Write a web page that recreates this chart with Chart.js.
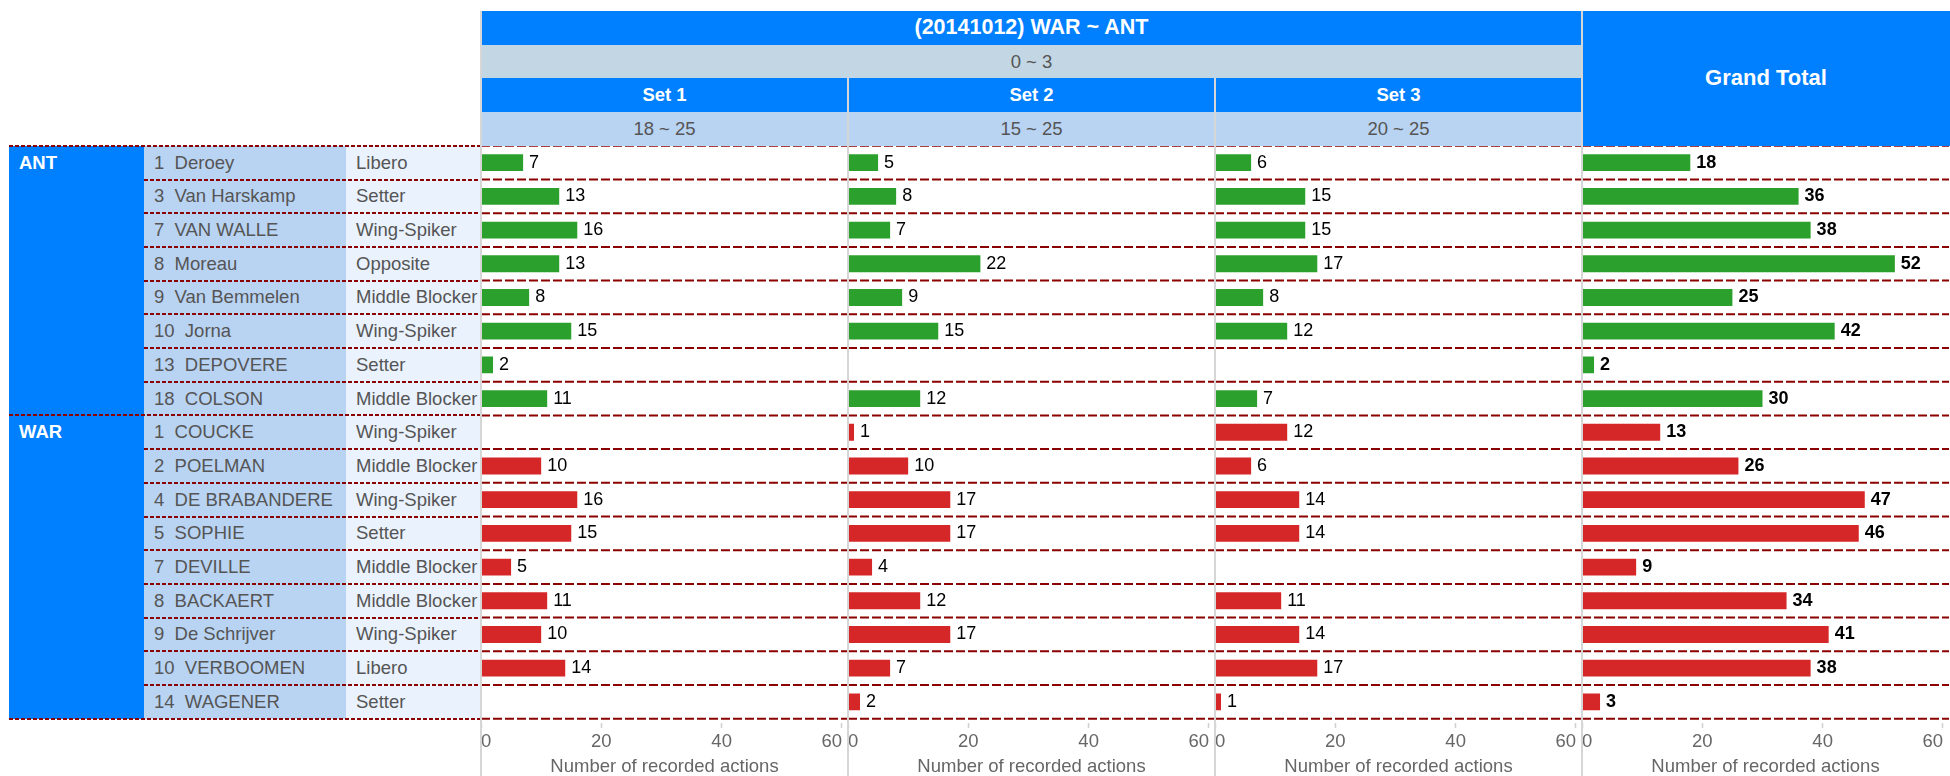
<!DOCTYPE html>
<html>
<head>
<meta charset="utf-8">
<script src="https://cdn.jsdelivr.net/npm/chart.js@4.4.1/dist/chart.umd.min.js"></script>
<style>
  html, body { margin:0; padding:0; background:#fff; }
  #page { position:relative; width:1950px; height:776px; overflow:hidden; font-family:'Liberation Sans', Arial, sans-serif; }
  .cell { position:absolute; display:flex; align-items:center; box-sizing:border-box; white-space:pre; z-index:2; }
  .hd   { justify-content:center; }
  .dash { position:absolute; height:2px; z-index:3; background:repeating-linear-gradient(90deg, #8b0000 0 4px, transparent 4px 6px); }
  .vline{ position:absolute; width:2px; background:#d6d6d6; z-index:4; }
  canvas{ position:absolute; top:0; z-index:1; }
</style>
</head>
<body>
<div id="page"></div>
<script>
/* ── Data ── */
const matchTitle = '(20141012) WAR ~ ANT';
const matchScore = '0 ~ 3';
const setTitles  = ['Set 1', 'Set 2', 'Set 3'];
const setScores  = ['18 ~ 25', '15 ~ 25', '20 ~ 25'];
const teamNames  = ['ANT', 'WAR'];
const teamSizes  = [8, 9];
const players = ['1  Deroey','3  Van Harskamp','7  VAN WALLE','8  Moreau','9  Van Bemmelen','10  Jorna','13  DEPOVERE','18  COLSON',
                 '1  COUCKE','2  POELMAN','4  DE BRABANDERE','5  SOPHIE','7  DEVILLE','8  BACKAERT','9  De Schrijver','10  VERBOOMEN','14  WAGENER'];
const positions = ['Libero','Setter','Wing-Spiker','Opposite','Middle Blocker','Wing-Spiker','Setter','Middle Blocker',
                   'Wing-Spiker','Middle Blocker','Wing-Spiker','Setter','Middle Blocker','Middle Blocker','Wing-Spiker','Libero','Setter'];
const set1       = [7, 13, 16, 13, 8, 15, 2, 11,    null, 10, 16, 15, 5, 11, 10, 14, null];
const set2       = [5, 8, 7, 22, 9, 15, null, 12,   1, 10, 17, 17, 4, 12, 17, 7, 2];
const set3       = [6, 15, 15, 17, 8, 12, null, 7,  12, 6, 14, 14, null, 11, 14, 17, 1];
const grandTotal = [18, 36, 38, 52, 25, 42, 2, 30, 13, 26, 47, 46, 9, 34, 41, 38, 3];
const xTicks = [0, 20, 40, 60];
const X_MAX  = 61;
const axisTitle = 'Number of recorded actions';

/* ── Look ── */
const FONT   = "'Liberation Sans', Arial, sans-serif";
const BLUE   = '#0080ff';
const teamColor = { ANT:'#2ca02c', WAR:'#d62728' };
const PAGE_H = 776;
const TOP = 11, ROW_H = 33.7;
const DATA_TOP = TOP + 4 * ROW_H;
const DATA_BOTTOM = DATA_TOP + players.length * ROW_H;
const COL_TEAM = 9, COL_NAME = 144, COL_POS = 346, PANEL_X = 481, PANEL_W = 367;

const rowTeam = [];
teamNames.forEach((t, i) => { for (let k = 0; k < teamSizes[i]; k++) rowTeam.push(t); });

function box(x, y, w, h, bg, inner, cls = '', extra = '') {
  return `<div class="cell ${cls}" style="left:${x}px;top:${y}px;width:${w}px;height:${h}px;background:${bg};${extra}">${inner}</div>`;
}

function renderTable() {
  const page = document.getElementById('page');
  let html = '';
  const bold = (txt, size) => `<span style="font-weight:700;font-size:${size}px;color:#fff">${txt}</span>`;
  const grey = txt => `<span style="font-size:18.5px;color:#555">${txt}</span>`;

  // header
  html += box(PANEL_X, TOP, PANEL_W * 3, ROW_H, BLUE, bold(matchTitle, 21.5), 'hd');
  html += box(PANEL_X, TOP + ROW_H, PANEL_W * 3, ROW_H, '#c2d6e4', grey(matchScore), 'hd');
  setTitles.forEach((s, i) => {
    const x = PANEL_X + i * PANEL_W;
    html += box(x, TOP + 2 * ROW_H, PANEL_W, ROW_H, BLUE, bold(s, 18.5), 'hd');
    html += box(x, TOP + 3 * ROW_H, PANEL_W, ROW_H, '#b9d3f2', grey(setScores[i]), 'hd');
  });
  html += box(PANEL_X + 3 * PANEL_W, TOP, 1950 - PANEL_X - 3 * PANEL_W, 4 * ROW_H, BLUE, bold('Grand Total', 22), 'hd');

  // label columns
  const dataH = DATA_BOTTOM - DATA_TOP;
  html += box(COL_TEAM, DATA_TOP, COL_NAME - COL_TEAM, dataH, BLUE, '');
  html += box(COL_NAME, DATA_TOP, COL_POS - COL_NAME, dataH, '#b9d3f2', '');
  html += box(COL_POS, DATA_TOP, PANEL_X - COL_POS, dataH, '#eaf2fd', '');
  let start = 0;
  teamNames.forEach((t, i) => {
    html += box(COL_TEAM, DATA_TOP + start * ROW_H, COL_NAME - COL_TEAM, ROW_H, 'transparent', bold(t, 18.5), '', 'padding-left:10px');
    start += teamSizes[i];
  });
  players.forEach((p, i) => {
    const y = DATA_TOP + i * ROW_H;
    html += box(COL_NAME, y, COL_POS - COL_NAME, ROW_H, 'transparent', grey(p), '', 'padding-left:10px');
    html += box(COL_POS, y, PANEL_X - COL_POS, ROW_H, 'transparent', grey(positions[i]), '', 'padding-left:10px');
  });

  // dashed separators over the label columns
  const teamEdges = [0];
  teamSizes.reduce((a, n) => { teamEdges.push(a + n); return a + n; }, 0);
  for (let i = 0; i <= players.length; i++) {
    const left = teamEdges.includes(i) ? COL_TEAM : COL_NAME;
    html += `<div class="dash" style="left:${left}px;top:${DATA_TOP + i * ROW_H - 1}px;width:${PANEL_X - left}px"></div>`;
  }

  // panel borders
  [TOP, TOP + 2 * ROW_H, TOP + 2 * ROW_H, TOP].forEach((y0, i) => {
    const x = PANEL_X + i * PANEL_W;
    html += `<div class="vline" style="left:${x - 1}px;top:${y0}px;height:${PAGE_H - y0}px"></div>`;
  });
  page.insertAdjacentHTML('beforeend', html);
}

/* ── Plugins ── */
const rowLines = {
  id:'rowLines',
  beforeDatasetsDraw(chart) {
    const { ctx, scales:{ y } } = chart;
    ctx.save();
    ctx.strokeStyle = '#8b0000';
    ctx.lineWidth = 2;
    ctx.setLineDash([9, 3]);
    for (let i = 0; i <= players.length; i++) {
      const yy = y.getPixelForValue(i - 0.5);
      ctx.beginPath(); ctx.moveTo(0, yy); ctx.lineTo(chart.width, yy); ctx.stroke();
    }
    ctx.restore();
  }
};

const valueLabels = {
  id:'valueLabels',
  afterDatasetsDraw(chart, args, opts) {
    const { ctx } = chart;
    const data = chart.data.datasets[0].data;
    ctx.save();
    ctx.font = `${opts.weight} 18px ${FONT}`;
    ctx.fillStyle = '#000';
    ctx.textAlign = 'left';
    ctx.textBaseline = 'middle';
    chart.getDatasetMeta(0).data.forEach((bar, i) => {
      if (data[i] == null) return;
      ctx.fillText(String(data[i]), bar.x + 6, bar.y);
    });
    ctx.restore();
  }
};

function buildPanel(idx, values, isTotal) {
  const cv = document.createElement('canvas');
  cv.width = PANEL_W;
  cv.height = PAGE_H;
  cv.style.left = (PANEL_X + idx * PANEL_W) + 'px';
  document.getElementById('page').appendChild(cv);
  new Chart(cv, {
    type:'bar',
    data:{
      labels:players,
      datasets:[{ data:values, backgroundColor:rowTeam.map(t => teamColor[t]), barPercentage:0.5, categoryPercentage:1 }]
    },
    options:{
      responsive:false, animation:false, indexAxis:'y', events:[],
      layout:{ padding:{ top:DATA_TOP, left:0, right:0, bottom:0 } },
      plugins:{ legend:{ display:false }, tooltip:{ enabled:false }, valueLabels:{ weight:isTotal ? 'bold' : 'normal' } },
      scales:{
        y:{ type:'category', display:false, grid:{ display:false } },
        x:{
          min:0, max:X_MAX,
          afterBuildTicks:s => { s.ticks = xTicks.map(v => ({ value:v })); },
          afterFit:s => { s.height = PAGE_H - DATA_BOTTOM; },
          border:{ display:false },
          grid:{ drawOnChartArea:false, drawTicks:true, tickLength:12, tickColor:'#d0d0d0', tickWidth:1.5, tickBorderDash:[0, 4, 5, 100] },
          ticks:{ align:'inner', padding:0, color:'#666', autoSkip:false, maxRotation:0, font:{ family:FONT, size:18.5 } },
          title:{ display:true, text:axisTitle, color:'#666', padding:{ top:0, bottom:0 }, font:{ family:FONT, size:18.5, lineHeight:1 } }
        }
      }
    },
    plugins:[rowLines, valueLabels]
  });
}

window.addEventListener('DOMContentLoaded', () => {
  renderTable();
  [set1, set2, set3].forEach((vals, i) => buildPanel(i, vals, false));
  buildPanel(3, grandTotal, true);
});
</script>
</body>
</html>
